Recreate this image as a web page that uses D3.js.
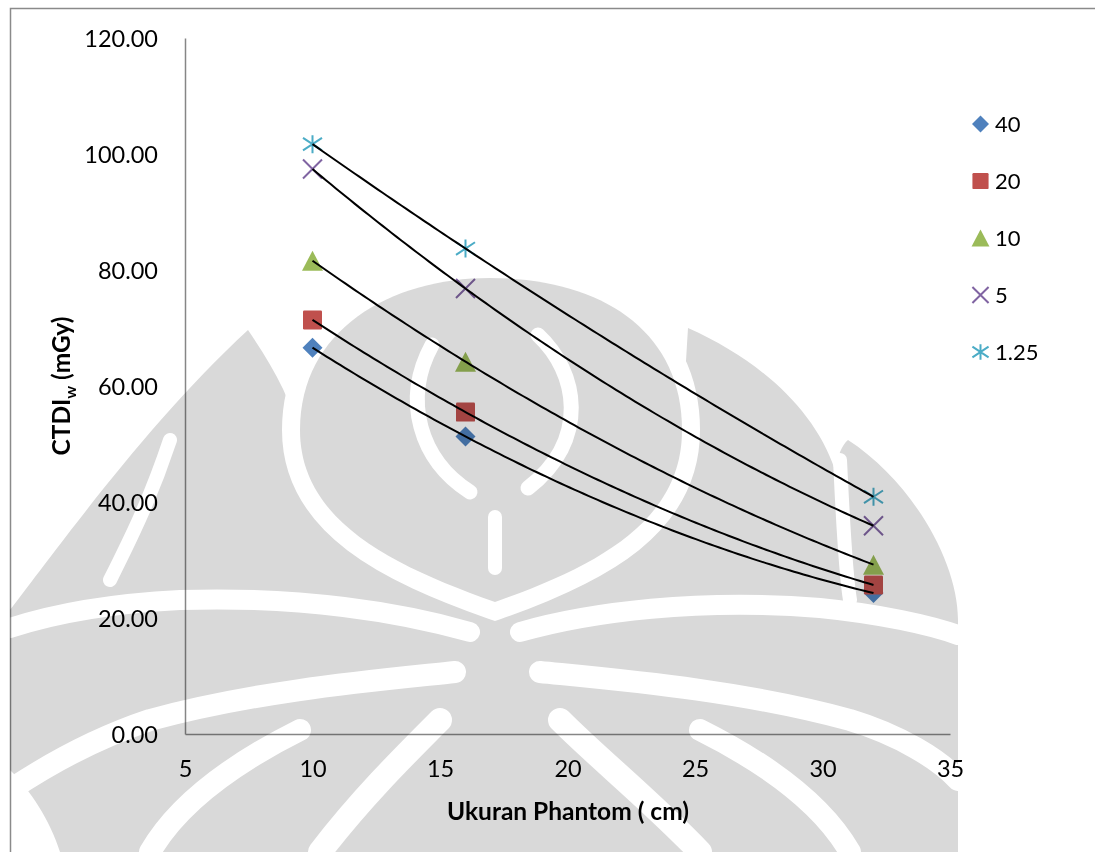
<!DOCTYPE html>
<html><head><meta charset="utf-8">
<script src="https://cdn.jsdelivr.net/npm/d3@7"></script>
<style>
html,body{margin:0;padding:0;background:#fff;}
svg{display:block;}
text{font-family:Lato,"Open Sans",sans-serif;fill:#000;}
</style></head><body>
<svg id="chart" width="1095" height="852"></svg>
<script>
// ---- data ----
const xValues = [10, 16, 32];
const seriesNames = ["40", "20", "10", "5", "1.25"];
const s40  = [66.6, 51.3, 24.3];
const s20  = [71.4, 55.5, 25.7];
const s10  = [81.6, 64.2, 29.2];
const s5   = [97.4, 76.8, 35.9];
const s125 = [101.7, 83.7, 40.9];
const yTicks = [0, 20, 40, 60, 80, 100, 120];
const xTicks = [5, 10, 15, 20, 25, 30, 35];
const xTitle = "Ukuran Phantom ( cm)";
const colors = ["#4F81BD", "#C0504D", "#9BBB59", "#8064A2", "#4BACC6"];
const shapes = ["diamond", "square", "triangle", "x", "star"];

const seriesValues = [s40, s20, s10, s5, s125];
const series = seriesNames.map((n, i) => ({name: n, values: seriesValues[i], color: colors[i], shape: shapes[i]}));

const svg = d3.select("#chart");
const x = d3.scaleLinear().domain([5, 35]).range([185, 950]);
const y = d3.scaleLinear().domain([0, 120]).range([734, 38]);

// outer frame
svg.append("rect").attr("x", 10.5).attr("y", 8.5).attr("width", 1200).attr("height", 1000)
  .attr("fill", "#fff").attr("stroke", "#8a8a8a").attr("stroke-width", 1.5);

// axes
const xAxis = d3.axisBottom(x).tickValues(xTicks).tickSize(0).tickPadding(0).tickFormat(d3.format("d"));
const gx = svg.append("g").attr("transform", "translate(0,734)").call(xAxis);
gx.select(".domain").attr("stroke", "#868686").attr("stroke-width", 1.5);
gx.selectAll("text").attr("font-size", 23.5).attr("dy", null).attr("y", 43).attr("font-family", "Lato");

const yAxis = d3.axisLeft(y).tickValues(yTicks).tickSize(0).tickPadding(0).tickFormat(d3.format(".2f"));
const gy = svg.append("g").attr("transform", "translate(185,0)").call(yAxis);
gy.select(".domain").attr("stroke", "#868686").attr("stroke-width", 1.5);
gy.selectAll("text").attr("font-size", 23.5).attr("x", -27).attr("dy", "0.36em").attr("font-family", "Lato");
svg.selectAll(".tick line").remove();

// titles
svg.append("text").attr("x", 568).attr("y", 820).attr("text-anchor", "middle")
  .attr("font-weight", "bold").attr("font-size", 24.5).text(xTitle);
const yt = svg.append("text").attr("transform", "translate(70,386) rotate(-90)")
  .attr("text-anchor", "middle").attr("font-weight", "bold").attr("font-size", 24.5);
yt.append("tspan").text("CTDI");
yt.append("tspan").attr("font-size", 16).attr("dy", 6).text("w");
yt.append("tspan").attr("dy", -6).text(" (mGy)");

// marker generator
function marker(sel, shape, color, s) {
  const r = 10 * s;
  if (shape === "diamond") {
    sel.append("path").attr("d", `M0,${-r}L${r},0L0,${r}L${-r},0Z`).attr("fill", color);
  } else if (shape === "square") {
    const h = 9.5 * s;
    sel.append("rect").attr("x", -h).attr("y", -h).attr("width", 2*h).attr("height", 2*h).attr("rx", 1.2).attr("fill", color);
  } else if (shape === "triangle") {
    const w = 10.5 * s;
    sel.append("path").attr("d", `M0,${-r}L${w},${r}L${-w},${r}Z`).attr("fill", color);
  } else if (shape === "x") {
    const a = 9.5 * s;
    sel.append("path").attr("d", `M${-a},${-a}L${a},${a}M${-a},${a}L${a},${-a}`).attr("stroke", color).attr("stroke-width", 2).attr("fill", "none");
  } else {
    const a = 9.5 * s, b = 9 * s;
    sel.append("path").attr("d", `M${-a},${-b*0.7}L${a},${b*0.7}M${-a},${b*0.7}L${a},${-b*0.7}M0,${-b}L0,${b}`).attr("stroke", color).attr("stroke-width", 2).attr("fill", "none");
  }
}

// markers
series.forEach(se => {
  const g = svg.append("g");
  se.values.forEach((v, i) => {
    const m = g.append("g").attr("transform", `translate(${x(xValues[i])},${y(v)})`);
    marker(m, se.shape, se.color, 1);
  });
});

// polynomial (order 2) trendlines through the points
function polyFit(xs, ys) {
  return t => ys.reduce((acc, yi, i) => {
    let p = yi;
    xs.forEach((xj, j) => { if (j !== i) p *= (t - xj) / (xs[i] - xj); });
    return acc + p;
  }, 0);
}
const line = d3.line().x(d => x(d[0])).y(d => y(d[1]));
series.forEach(se => {
  const f = polyFit(xValues, se.values);
  const x0 = d3.min(xValues), x1 = d3.max(xValues);
  const xs = d3.range(0, 121).map(k => x0 + (x1 - x0) * k / 120);
  svg.append("path").attr("d", line(xs.map(t => [t, f(t)])))
    .attr("fill", "none").attr("stroke", "#000").attr("stroke-width", 2);
});

// legend
series.forEach((se, i) => {
  const cy = 124 + i * 57;
  const m = svg.append("g").attr("transform", `translate(980.5,${cy})`);
  marker(m, se.shape, se.color, 0.85);
  svg.append("text").attr("x", 995).attr("y", cy).attr("dy", "0.36em").attr("font-size", 22).text(se.name);
});

// watermark (background logo, multiplied on top)
const wm = svg.append("g").style("mix-blend-mode", "multiply");
const gray = "#d9d9d9";
// silhouette
wm.append("path").attr("fill", gray).attr("d",
  "M10,610 C60,545 150,420 248,330 C275,370 292,400 300,440 L680,440 C684,400 686,360 688,328 " +
  "C760,360 815,410 835,470 C838,455 842,445 848,440 C910,480 958,560 958,620 L958,852 L60,852 C50,820 30,790 10,770 Z");
// dome with white halo
const dome = "M495,602 C390,565 300,520 300,430 C300,330 390,278 490,278 C600,278 682,330 682,430 C682,520 600,565 495,602 Z";
wm.append("path").attr("d", dome).attr("fill", "none").attr("stroke", "#fff").attr("stroke-width", 36);
wm.append("path").attr("d", dome).attr("fill", gray);
const whiteStrokes = [
  ["M470,492 C420,460 402,400 432,345", 15],
  ["M538,335 C578,372 590,440 528,488", 15],
  ["M495,517 L495,568", 14],
  ["M470,632 C400,612 300,596 180,600 C100,604 50,615 10,628", 20],
  ["M520,632 C590,612 700,598 820,608 C880,614 930,625 958,635", 20],
  ["M455,672 C380,680 260,690 150,720 C90,740 40,770 10,790", 22],
  ["M540,672 C620,680 740,690 850,720 C900,735 940,760 958,780", 22],
  ["M440,720 C400,760 360,800 320,852", 24],
  ["M560,720 C600,760 650,800 700,852", 24],
  ["M300,730 C240,760 180,800 150,852", 22],
  ["M700,730 C760,760 820,800 850,852", 22],
  ["M840,460 C843,520 845,570 850,600", 14],
  ["M170,440 C150,500 130,540 110,580", 14]
];
whiteStrokes.forEach(([d, w]) => wm.append("path").attr("d", d).attr("fill", "none").attr("stroke", "#fff").attr("stroke-width", w).attr("stroke-linecap", "round"));
</script>
</body></html>
